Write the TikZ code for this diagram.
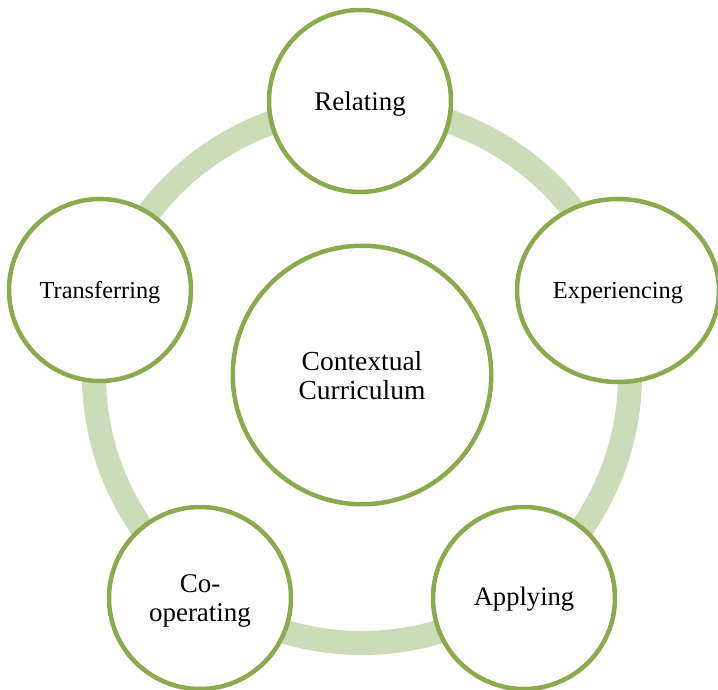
\documentclass[tikz,border=0pt]{standalone}
\usepackage{fontspec}
\setmainfont{Liberation Serif}
\usetikzlibrary{shapes.geometric}
\definecolor{rim}{RGB}{139,170,78}
\definecolor{band}{RGB}{205,220,184}
\begin{document}
\begin{tikzpicture}[x=1pt,y=-1pt,
  stage/.style={circle, draw=rim, line width=4.5pt, fill=white,
    inner sep=0pt, minimum size=182pt, align=center, text depth=0pt},
  oval/.style={ellipse, draw=rim, line width=4.5pt, fill=white,
    inner sep=0pt, minimum width=202pt, minimum height=183pt, align=center,
    text depth=0pt}]
\useasboundingbox (0,0) rectangle (718,690);
% the cycle band behind the stages
\coordinate (hub) at (362,375);
\draw[band, line width=24pt] (hub) circle[radius=268pt];
% centre
\node[stage, minimum size=258.5pt, font=\fontsize{27.5}{29}\selectfont]
  (core) at (362,375) {Contextual\\Curriculum};
% the five stages
\node[stage, font=\fontsize{27}{28}\selectfont] (relating) at (360,101) {Relating};
\node[oval, font=\fontsize{24.4}{28}\selectfont] (experiencing) at (618,290.5) {Experiencing};
\node[stage, text depth=2.5pt, font=\fontsize{26.6}{28}\selectfont] (applying) at (524,598) {Applying};
\node[stage, font=\fontsize{27}{28.3}\selectfont] (cooperating) at (200,598) {Co-\\operating};
\node[stage, font=\fontsize{24.3}{28}\selectfont] (transferring) at (100,290) {Transferring};
\end{tikzpicture}
\end{document}
